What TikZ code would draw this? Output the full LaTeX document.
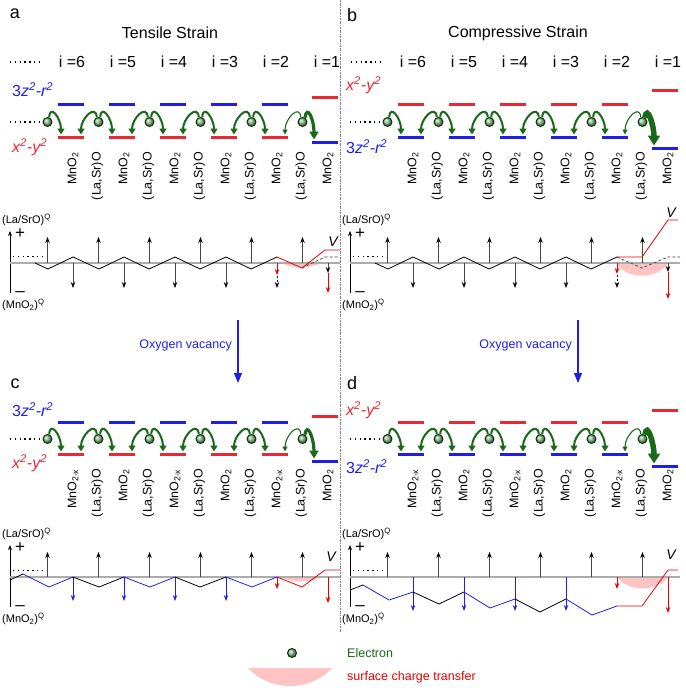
\documentclass[tikz,border=0pt]{standalone}
\usepackage{fontspec}
\setmainfont{Liberation Sans}
\usetikzlibrary{arrows.meta,calc}
\definecolor{lvblue}{RGB}{30,30,235}
\definecolor{lvred}{RGB}{232,40,50}
\definecolor{egreen}{RGB}{25,105,25}
\definecolor{pinkfill}{RGB}{255,195,195}
\newcommand\fsz[1]{\fontsize{#1}{#1}\selectfont}
\tikzset{
 x=1pt, y=-1pt,
 bar/.style={draw=#1, line width=3pt},
 electron/.style={circle, inner sep=0pt, minimum size=9pt, draw=green!20!black, line width=0.9pt, ball color=green!25!gray!70!white},
 garrow/.style={draw=egreen, line width=2pt, -{Triangle[length=6pt,width=7pt]}},
 gthin/.style={draw=egreen, line width=1.1pt, -{Triangle[length=5pt,width=5pt]}},
 gthick/.style={draw=egreen, line width=3.2pt, -{Triangle[length=8pt,width=9pt]}},
 gwedge/.style={draw=egreen, line width=5.5pt, -{Triangle[length=10pt,width=12pt]}},
 dots/.style={line width=1.4pt, dash pattern=on 1.4pt off 3.4pt},
 lab/.style={rotate=90, anchor=east, inner sep=0pt, font=\fsz{12.5}},
 ilab/.style={inner sep=0pt, font=\fsz{16}},
 panel/.style={inner sep=0pt, font=\fsz{18}},
 orb/.style={inner sep=0pt, anchor=west, font=\fsz{16}\itshape},
 qlab/.style={inner sep=0pt, anchor=west, font=\fsz{11}},
 pm/.style={inner sep=0pt, font=\fsz{17}},
 vlab/.style={inner sep=0pt, font=\fsz{14}\itshape},
 axisline/.style={draw=gray!65, line width=1.8pt},
 vaxis/.style={draw=black, line width=0.8pt, -{Stealth[length=5pt,width=4pt]}},
 uparr/.style={draw=gray!55!black, line width=0.9pt, -{Stealth[length=6pt,width=4.5pt,black]}},
 dasharr/.style={draw=black, line width=0.9pt, dash pattern=on 2pt off 2pt, -{Stealth[length=6pt,width=4.5pt]}},
 bluearr/.style={draw=lvblue, line width=0.9pt, -{Stealth[length=6pt,width=4.5pt]}},
 redarr/.style={draw=red!90!black, line width=0.9pt, -{Stealth[length=6pt,width=4.5pt]}},
 zig/.style={draw=black, line width=0.8pt},
 zigb/.style={draw=lvblue, line width=0.8pt},
 zigr/.style={draw=red!90!black, line width=0.8pt},
 dashline/.style={draw=black!75, line width=0.7pt, dash pattern=on 3pt off 2pt},
 vac/.style={draw=lvblue, line width=1.3pt, -{Triangle[length=10pt,width=8pt]}},
}
% #1 prefix, #2 dx, #3 electron y, #4 upper colour, #5 lower colour,
% #6 i=1 upper offset, #7 i=1 lower offset, #8 last arrow style, #9 odd MnO subscript
\newcommand\topblock[9]{%
\begin{scope}[shift={(#2,#3)}]
 \foreach \k in {1,...,5}{
   \pgfmathsetmacro\xc{20+51*\k}
   \draw[bar=#4] (\xc-13,-17) -- (\xc+13,-17);
   \draw[bar=#5] (\xc-13,15) -- (\xc+13,15);
   \coordinate (#1L\k) at (\xc-10,12.5);
   \coordinate (#1R\k) at (\xc+10,12.5);
 }
 \draw[bar=lvred] (312,#6) -- (338,#6);
 \draw[bar=lvblue] (312,#7) -- (338,#7);
 \coordinate (#1T) at (314,#7-2.5);
 \draw[dots] (10,0) -- (42,0);
 \foreach \j in {0,...,5}{\node[electron] (#1e\j) at (47.5+51*\j,0) {};}
 \foreach \j [evaluate=\j as \k using int(\j+1)] in {0,...,4}{
   \draw[garrow] (#1e\j.70) .. controls +(1,-14) and +(0,-16) .. (#1L\k);}
 \foreach \j in {1,...,4}{
   \draw[garrow] (#1e\j.110) .. controls +(-1,-14) and +(0,-16) .. (#1R\j);}
 \draw[gthin] (#1e5.110) .. controls +(-1,-14) and +(0,-16) .. (#1R5);
 \draw[#8] (#1e5.60) .. controls +(2,-14) and +(0,-20) .. (#1T);
 \foreach \j in {1,...,5}{\node[lab] (#1s\j) at (46.5+51*\j,30) {(La,Sr)O};}
 \foreach \k in {1,...,6}{\node[lab] (#1m\k) at (22+51*\k,30) {MnO\textsubscript{\ifodd\k\relax #9\else 2\fi}};}
\end{scope}}
% common axes: #1 dx, #2 axis y
\newcommand\axesblock[2]{%
\begin{scope}[shift={(#1,#2)}]
 \draw[vaxis] (10,30) -- (10,-32);
 \node[qlab] at (2,-43) {(La/SrO)\textsuperscript{Q}};
 \node[pm] at (20,-29) {+};
 \node[pm] at (20,31) {–};
 \node[qlab] at (2,42) {(MnO\textsubscript{2})\textsuperscript{Q}};
 \draw[dots] (13,-6.5) -- (43,-6.5);
 \draw[axisline] (10,0) -- (340,0);
\end{scope}}
\begin{document}
\begin{tikzpicture}
\useasboundingbox (0,0) rectangle (685,690);
% separator
\draw[gray, line width=0.6pt, dash pattern=on 2pt off 1pt on 0.5pt off 1pt] (340,0) -- (340,632);
% panel letters and titles
\node[panel] (pa) at (15,14) {a};
\node[panel] (pb) at (352,15) {b};
\node[panel] (pc) at (15,384) {c};
\node[panel] (pd) at (352,383) {d};
\node[ilab] (ta) at (170,33) {Tensile Strain};
\node[ilab] (tb) at (518,33) {Compressive Strain};
\foreach \d in {0,341}{
  \draw[dots] (10+\d,62) -- (42+\d,62);
  \foreach \n [count=\c] in {6,5,4,3,2,1}{
    \node[ilab] (il\d-\n) at (21+51*\c+\d,62) {i =\n};}
}
% orbital labels
\node[orb, text=lvblue] (oa1) at (12,90) {\upshape 3\itshape z\textsuperscript{2}-r\textsuperscript{2}};
\node[orb, text=lvred] (oa2) at (12,147) {x\textsuperscript{2}-y\textsuperscript{2}};
\node[orb, text=lvred] (ob1) at (346,85) {x\textsuperscript{2}-y\textsuperscript{2}};
\node[orb, text=lvblue] (ob2) at (346,147) {\upshape 3\itshape z\textsuperscript{2}-r\textsuperscript{2}};
\node[orb, text=lvblue] (oc1) at (12,410) {\upshape 3\itshape z\textsuperscript{2}-r\textsuperscript{2}};
\node[orb, text=lvred] (oc2) at (12,463) {x\textsuperscript{2}-y\textsuperscript{2}};
\node[orb, text=lvred] (od1) at (346,410) {x\textsuperscript{2}-y\textsuperscript{2}};
\node[orb, text=lvblue] (od2) at (346,467) {\upshape 3\itshape z\textsuperscript{2}-r\textsuperscript{2}};
% level blocks
\topblock{a}{0}{122}{lvblue}{lvred}{-24}{20}{gthick}{2}
\topblock{b}{340}{122}{lvred}{lvblue}{-31}{26}{gwedge}{2}
\topblock{c}{0}{439}{lvblue}{lvred}{-23}{22}{gthick}{2-x}
\topblock{d}{340}{439}{lvred}{lvblue}{-29}{27}{gwedge}{2-x}
% oxygen vacancy arrows
\coordinate (va1) at (238,320); \coordinate (va2) at (238,383);
\draw[vac] (va1) -- (va2);
\node[inner sep=0pt, anchor=east, text=lvblue, font=\fsz{12.5}] (vt1) at (232,345) {Oxygen vacancy};
\coordinate (vb1) at (578,320); \coordinate (vb2) at (578,383);
\draw[vac] (vb1) -- (vb2);
\node[inner sep=0pt, anchor=east, text=lvblue, font=\fsz{12.5}] (vt2) at (572,345) {Oxygen vacancy};
% ---------- graph a ----------
\begin{scope}[shift={(0,263)}]
 \fill[pinkfill] (279,-1) -- (323,-1) .. controls (312,6) and (290,6) .. (279,-1) -- cycle;
\end{scope}
\axesblock{0}{263}
\begin{scope}[shift={(0,263)}]
 \foreach \j in {0,...,5}{\draw[uparr] (47.5+51*\j,0) -- ++(0,-26);}
 \foreach \k in {1,...,4}{\draw[uparr] (22+51*\k,0) -- ++(0,25);}
 \draw[zig] (35,0) -- (48,6) -- (73,-6) -- (99,6) -- (124,-6) -- (149,6) -- (175,-6) -- (200,6) -- (226,-6) -- (251,6) -- (277,-6);
 \draw[dashline] (302,5) -- (325,-6) -- (340,-6);
 \draw[zigr] (277,-6) -- (302,5) -- (325,-13) -- (340,-13);
 \draw[redarr] (277,0) -- (277,12);
 \draw[dasharr] (277,13) -- (277,25);
 \draw[uparr] (328,0) -- (328,10);
 \draw[redarr] (328,10) -- (328,30);
 \node[vlab] (Va) at (333,-21) {V};
\end{scope}
% ---------- graph b ----------
\begin{scope}[shift={(340,263)}]
 \fill[pinkfill] (276,0) .. controls (286,17) and (318,17) .. (328,0) -- cycle;
\end{scope}
\axesblock{340}{263}
\begin{scope}[shift={(340,263)}]
 \foreach \j in {0,...,5}{\draw[uparr] (47.5+51*\j,0) -- ++(0,-26);}
 \foreach \k in {1,...,4}{\draw[uparr] (22+51*\k,0) -- ++(0,25);}
 \draw[zig] (35,0) -- (48,6) -- (73,-6) -- (99,6) -- (124,-6) -- (149,6) -- (175,-6) -- (200,6) -- (226,-6) -- (251,6) -- (277,-6);
 \draw[dashline] (277,-6) -- (302,5) -- (328,-6) -- (340,-6);
 \draw[zigr] (277,-6) -- (302,-6) -- (328,-43) -- (338,-43);
 \draw[redarr] (277,0) -- (277,11);
 \draw[dasharr] (277,12) -- (277,25);
 \draw[uparr] (328,0) -- (328,9);
 \draw[redarr] (328,9) -- (328,36);
 \node[vlab] (Vb) at (331,-50) {V};
\end{scope}
% ---------- graph c ----------
\begin{scope}[shift={(0,577)}]
 \fill[pinkfill] (279,-1) -- (323,-1) .. controls (312,6) and (290,6) .. (279,-1) -- cycle;
\end{scope}
\axesblock{0}{577}
\begin{scope}[shift={(0,577)}]
 \foreach \j in {0,...,5}{\draw[uparr] (47.5+51*\j,0) -- ++(0,-25);}
 \foreach \k in {1,...,4}{\draw[bluearr] (22+51*\k,0) -- ++(0,24);}
 \draw[zig] (10,3) -- (23,-3);
 \draw[zigb] (23,-3) -- (49,10) -- (73,0);
 \draw[zig] (73,0) -- (99,10) -- (124,0);
 \draw[zigb] (124,0) -- (150,10) -- (175,0);
 \draw[zig] (175,0) -- (200,10) -- (226,0);
 \draw[zigb] (226,0) -- (252,10) -- (277,0);
 \draw[zigr] (277,0) -- (302,10) -- (325,-7) -- (340,-7);
 \draw[redarr] (277,0) -- (277,12);
 \draw[redarr] (328,0) -- (328,26);
 \node[vlab] (Vc) at (331,-20) {V};
\end{scope}
% ---------- graph d ----------
\begin{scope}[shift={(340,577)}]
 \fill[pinkfill] (277,0) .. controls (287,15) and (318,15) .. (328,0) -- cycle;
\end{scope}
\axesblock{340}{577}
\begin{scope}[shift={(340,577)}]
 \foreach \j in {0,...,5}{\draw[uparr] (47.5+51*\j,0) -- ++(0,-25);}
 \foreach \k in {1,...,4}{\draw[bluearr] (22+51*\k,0) -- ++(0,34);}
 \draw[zig] (10,13) -- (23,8);
 \draw[zigb] (23,8) -- (49,23) -- (73,15);
 \draw[zig] (73,15) -- (99,27) -- (124,15);
 \draw[zigb] (124,15) -- (150,31) -- (175,22);
 \draw[zig] (175,22) -- (200,35) -- (226,22);
 \draw[zigb] (226,22) -- (252,38) -- (277,29);
 \draw[zigr] (277,29) -- (302,29) -- (328,-7) -- (338,-7);
 \draw[redarr] (277,0) -- (277,12);
 \draw[redarr] (328,0) -- (328,36);
 \node[vlab] (Vd) at (331,-22) {V};
\end{scope}
% ---------- legend ----------
\node[electron] (le) at (292,653) {};
\node[inner sep=0pt, anchor=west, text=egreen, font=\fsz{12.5}] (lt1) at (347,653) {Electron};
\fill[pinkfill] (248,668) .. controls (270,692) and (310,692) .. (332,668) -- cycle;
\node[inner sep=0pt, anchor=west, text=red!90!black, font=\fsz{12.5}] (lt2) at (347,677) {surface charge transfer};
\end{tikzpicture}
\end{document}
